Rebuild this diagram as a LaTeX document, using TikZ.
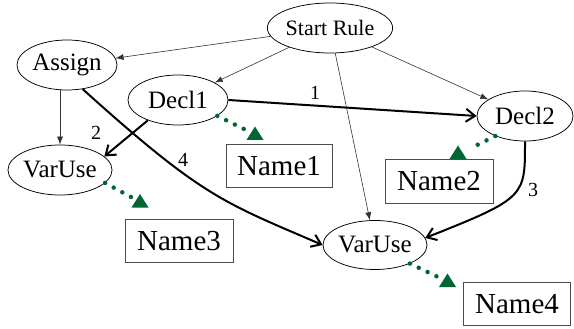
\documentclass[tikz,border=0pt]{standalone}
\usepackage{fontspec}
\setmainfont{Liberation Serif}
\usetikzlibrary{shapes.geometric,arrows.meta,calc}

\definecolor{dotgreen}{RGB}{0,102,51}

\tikzset{every picture/.style={line width=0.75pt}}
\tikzset{
  ellip/.style={draw, ellipse, inner sep=0pt, minimum width=100pt, minimum height=50pt, font=\fontsize{25}{28}\selectfont},
  namebox/.style={draw=black!70, rectangle, inner sep=0pt, minimum width=107pt, minimum height=43pt, font=\fontsize{29}{32}\selectfont},
  edgelab/.style={inner sep=0pt, font=\fontsize{20}{23}\selectfont},
  thinlink/.style={draw=black!80, line width=0.6pt, -{Latex[length=8pt,width=6pt]}},
  thicklink/.style={line width=2pt, -{Straight Barb[length=9pt,width=13pt]}},
  dotlink/.style={dotgreen, line width=4.5pt, line cap=round, dash pattern=on 0pt off 9.8pt},
}
\newcommand{\greentri}[1]{\fill[dotgreen] ($(#1)+(-8.5,6.5)$) -- ($(#1)+(8.5,6.5)$) -- ($(#1)+(0,-7)$) -- cycle;}

\begin{document}
\begin{tikzpicture}[x=1pt,y=1pt,yscale=-1,xscale=1]
\path[use as bounding box] (0,0) rectangle (574,329);

%Shape: Ellipse
\node [ellip, font=\fontsize{22}{25}\selectfont] (start) at (330,28) {Start Rule};
%Shape: Ellipse
\node [ellip] (assign) at (67,65) {Assign};
%Shape: Ellipse
\node [ellip] (decl1) at (178,100) {Decl1};
%Shape: Ellipse
\node [ellip, minimum width=96pt] (decl2) at (525,116) {Decl2};
%Shape: Ellipse
\node [ellip] (varuse1) at (60,170) {VarUse};
%Shape: Ellipse
\node [ellip, minimum height=49pt] (varuse2) at (375,245) {VarUse};

%Shape: Rectangle
\node [namebox, minimum width=106pt] (name1) at (279,166) {Name1};
%Shape: Rectangle
\node [namebox, minimum width=108pt, minimum height=44pt] (name2) at (439,181) {Name2};
%Shape: Rectangle
\node [namebox, minimum width=108pt] (name3) at (179,241) {Name3};
%Shape: Rectangle
\node [namebox] (name4) at (517,304) {Name4};

% Text Node
\node [edgelab] (lab1) at (315,93) {1};
% Text Node
\node [edgelab] (lab2) at (96,133) {2};
% Text Node
\node [edgelab] (lab3) at (533,190) {3};
% Text Node
\node [edgelab] (lab4) at (183,160) {4};

% Connection
\draw [thinlink] (start) -- (assign);
% Connection
\draw [thinlink] (start) -- (decl1);
% Connection
\draw [thinlink] (start) -- (decl2);
% Connection
\draw [thinlink] (start) -- (varuse2);
% Connection
\draw [thinlink] (assign.south -| varuse1.north) -- (varuse1.north);

% Connection
\draw [thicklink] (decl1.east) -- (decl2.west);
% Connection
\draw [thicklink] (decl1.214) -- (varuse1.17);
% Connection
\draw [thicklink] (decl2.south) .. controls +(0,55) and +(101,-40) .. (varuse2.8);
% Connection
\draw [thicklink] (assign.303) .. controls +(120,108) and +(-100,-43) .. (varuse2.west);

% Dotted links
\coordinate (d1) at (246,130);
\coordinate (d2) at (469,149);
\coordinate (d3) at (131,197);
\coordinate (d4) at (438,277);
\draw [dotlink] (decl1.-22) -- (d1);
\draw [dotlink] (decl2.214) -- (d2);
\draw [dotlink] (varuse1.-16) -- (d3);
\draw [dotlink] (varuse2.-28) -- (d4);
\greentri{255,133.5}
\greentri{458,152.5}
\greentri{140,201}
\greentri{447.5,280.5}

\end{tikzpicture}
\end{document}
